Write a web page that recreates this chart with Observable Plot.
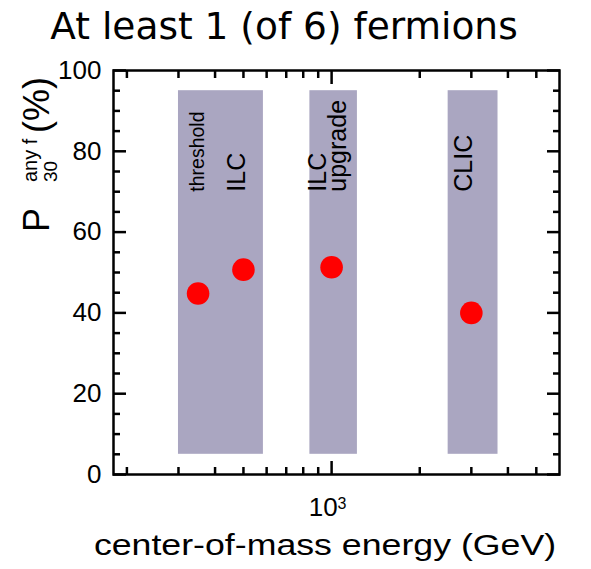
<!DOCTYPE html>
<html>
<head>
<meta charset="utf-8">
<script src="https://cdn.jsdelivr.net/npm/d3@7"></script>
<script src="https://cdn.jsdelivr.net/npm/@observablehq/plot@0.6"></script>
<style>
  html, body { margin: 0; padding: 0; background: #fff; }
  #title { box-sizing: border-box; width: 568px; height: 52px; padding-top: 8px; text-align: center;
           font-family: "DejaVu Sans", sans-serif; font-size: 37.5px; line-height: 1; color: #000; white-space: nowrap; }
  #chart svg { display: block; }
</style>
</head>
<body>
<div id="title">At least 1 (of 6) fermions</div>
<div id="chart"></div>
<script>
// ---- data ----
const energies = [350, 500, 1000, 3000];          // GeV
const probs = [44.8, 50.7, 51.3, 40.0];           // P30 any f (%)

const bandNames = ["ILC", "ILC upgrade", "CLIC"];
const bandLo = [300, 843, 2500];                  // GeV
const bandHi = [585, 1225, 3700];                 // GeV
const bandBottom = [5, 5, 5];                     // %
const bandTop = [95, 95, 95];                     // %

const labelTexts = ["threshold", "ILC", "ILC\nupgrade", "CLIC"];
const labelEnergies = [350, 480, 985, 2880];
const labelP = [70, 70, 70, 70];

const yMajorTicks = [0, 20, 40, 60, 80, 100];
const yMinorTicks = [5, 10, 15, 25, 30, 35, 45, 50, 55, 65, 70, 75, 85, 90, 95];
const xMajorTicks = [1000];
const xMinorTicks = [200, 300, 400, 500, 600, 700, 800, 900, 2000, 3000, 4000, 5000];
const xTickBase = "10";
const xTickExp = "3";

// ---- tables ----
const points = energies.map((e, i) => ({energy: e, p: probs[i]}));
const bands = bandNames.map((n, i) => ({name: n, lo: bandLo[i], hi: bandHi[i], bottom: bandBottom[i], top: bandTop[i]}));
const labels = labelTexts.map((t, i) => ({text: t, energy: labelEnergies[i], p: labelP[i]}));

const tickStyle = {fill: "none", label: null, strokeWidth: 2.5, stroke: "#000"};
const MAJ = 13, MIN = 7;

const chart = Plot.plot({
  width: 591,
  height: 517,
  marginTop: 18,
  marginBottom: 95,
  marginLeft: 113,
  marginRight: 32,
  style: {fontFamily: "'Liberation Sans', Arial, sans-serif", fontSize: "26px", color: "#000", background: "#fff", overflow: "visible"},
  x: {type: "log", domain: [180, 6000]},
  y: {domain: [0, 100]},
  marks: [
    Plot.rect(bands, {x1: "lo", x2: "hi", y1: "bottom", y2: "top", fill: "#aaa6c1"}),
    Plot.text(labels.filter(d => d.text === "threshold"), {x: "energy", y: "p", text: "text", rotate: -90, textAnchor: "start", fontSize: 19.5, fill: "#000", ariaLabel: "band label"}),
    Plot.text(labels.filter(d => d.text !== "threshold"), {x: "energy", y: "p", text: "text", rotate: -90, textAnchor: "start", fontSize: 25, lineHeight: 0.78, fill: "#000", ariaLabel: "band label"}),
    Plot.dot(points, {x: "energy", y: "p", r: 11.3, fill: "#ff0000"}),
    // inward ticks, all four sides
    Plot.axisY(yMajorTicks, {anchor: "left", tickSize: MAJ, insetLeft: MAJ, ...tickStyle}),
    Plot.axisY(yMinorTicks, {anchor: "left", tickSize: MIN, insetLeft: MIN, ...tickStyle}),
    Plot.axisY(yMajorTicks, {anchor: "right", tickSize: MAJ, insetRight: MAJ, ...tickStyle}),
    Plot.axisY(yMinorTicks, {anchor: "right", tickSize: MIN, insetRight: MIN, ...tickStyle}),
    Plot.axisX(xMajorTicks, {anchor: "bottom", tickSize: MAJ, insetBottom: MAJ, ...tickStyle}),
    Plot.axisX(xMinorTicks, {anchor: "bottom", tickSize: MIN, insetBottom: MIN, ...tickStyle}),
    Plot.axisX(xMajorTicks, {anchor: "top", tickSize: MAJ, insetTop: MAJ, ...tickStyle}),
    Plot.axisX(xMinorTicks, {anchor: "top", tickSize: MIN, insetTop: MIN, ...tickStyle}),
    // tick labels
    Plot.axisY(yMajorTicks, {anchor: "left", tickSize: 0, tickPadding: 12, label: null, fontSize: 26}),
    Plot.axisX(xMajorTicks, {anchor: "bottom", tickSize: 0, tickPadding: 23, label: null, fontSize: 26, dx: -4, tickFormat: () => xTickBase + xTickExp}),
    Plot.frame({stroke: "#000", strokeWidth: 2.5})
  ]
});

document.getElementById("chart").appendChild(chart);

const svg = d3.select(chart);

// slightly widen the glyphs of the rotated band labels (as in the reference)
svg.selectAll('[aria-label="band label"] text').each(function () {
  const tr = this.getAttribute("transform") || "";
  this.setAttribute("transform", tr + " scale(1,1.15)");
});

// superscript exponent on the x tick label
svg.selectAll('[aria-label="x-axis tick label"] text').each(function () {
  const t = d3.select(this);
  t.text("");
  t.append("tspan").text(xTickBase);
  t.append("tspan").attr("dy", "-0.45em").attr("font-size", 16).text(xTickExp);
});

// axis titles
svg.append("text")
  .attr("transform", "translate(325,503) scale(1.19,1)")
  .attr("text-anchor", "middle")
  .attr("font-size", 30)
  .attr("fill", "#000")
  .text("center-of-mass energy (GeV)");

// y-axis title: P (super "any f", sub "30") (%), read bottom to top
function yPart(txt, baseX, startY, size) {
  svg.append("text")
    .attr("transform", `translate(${baseX},${startY}) rotate(-90)`)
    .attr("text-anchor", "start")
    .attr("font-size", size)
    .attr("fill", "#000")
    .text(txt);
}
yPart("P", 49, 180, 36);
yPart("any f", 37, 130, 20);
yPart("30", 57, 130, 19);
yPart("(%)", 49, 81, 36);
</script>
</body>
</html>
